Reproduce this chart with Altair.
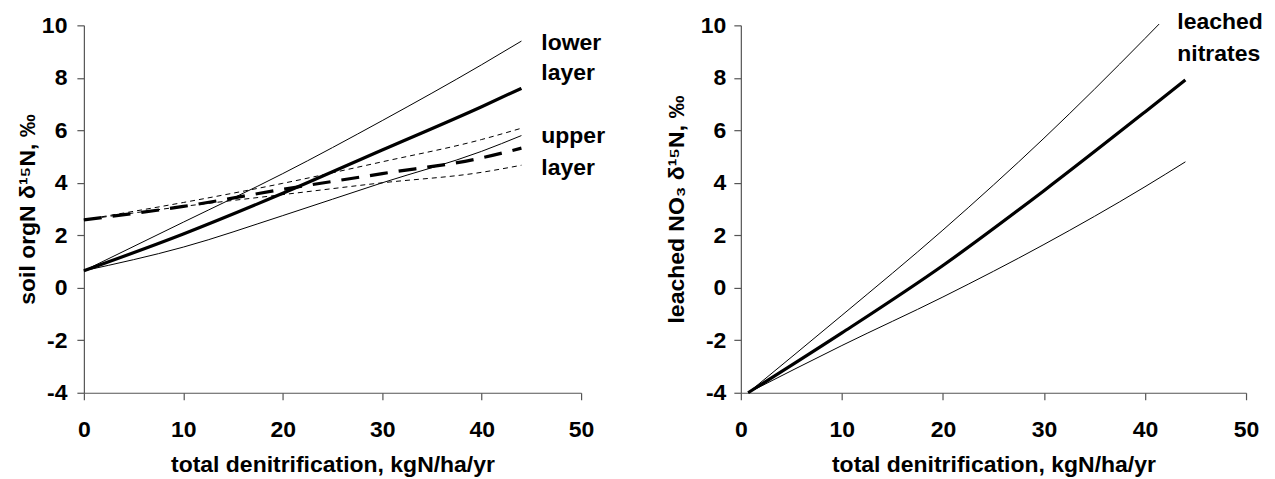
import altair as alt
import pandas as pd

FONT = "Liberation Sans, Arial, sans-serif"

# ---------------- left panel: soil orgN ----------------
left_x = [0, 10, 20, 30, 40, 44]
lower_hi = [0.65, 2.5, 4.35, 6.37, 8.5, 9.4]
lower_mid = [0.65, 2.05, 3.6, 5.25, 6.9, 7.6]
lower_lo = [0.65, 1.55, 2.75, 4.0, 5.2, 5.8]
upper_hi = [2.59, 3.25, 3.98, 4.8, 5.65, 6.08]
upper_mid = [2.59, 3.1, 3.75, 4.35, 4.95, 5.32]
upper_lo = [2.59, 3.1, 3.55, 4.0, 4.4, 4.67]

left_labels = ["lower", "layer", "upper", "layer"]
left_label_x = [46.0, 46.0, 46.0, 46.0]
left_label_y = [9.05, 7.9, 5.5, 4.3]

# ---------------- right panel: leached nitrates ----------------
right_x_hi = [0.72, 10, 20, 30, 40, 41.4]
right_hi = [-4, -1.05, 2.2, 5.7, 9.5, 10.05]
right_x = [0.72, 10, 20, 30, 40, 44]
right_mid = [-4, -1.72, 0.85, 3.7, 6.7, 7.92]
right_lo = [-4, -2.2, -0.35, 1.65, 3.85, 4.8]

right_labels = ["leached", "nitrates"]
right_label_x = [43.2, 43.2]
right_label_y = [9.86, 8.66]

x_ticks = [0, 10, 20, 30, 40, 50]
y_ticks = [-4, -2, 0, 2, 4, 6, 8, 10]

x_title = "total denitrification, kgN/ha/yr"
left_y_title = "soil orgN  δ¹⁵N,  ‰"
right_y_title = "leached NO₃ δ¹⁵N, ‰"

XS = alt.Scale(domain=[0, 50], nice=False)
YS = alt.Scale(domain=[-4, 10], nice=False)


def line(xs, ys, width, dash=None):
    df = pd.DataFrame({"x": xs, "y": ys})
    kw = dict(color="black", strokeWidth=width, clip=False, interpolate="monotone")
    if dash:
        kw["strokeDash"] = dash
    return alt.Chart(df).mark_line(**kw).encode(
        x=alt.X("x:Q", scale=XS),
        y=alt.Y("y:Q", scale=YS),
    )


def labels(texts, xs, ys):
    df = pd.DataFrame({"t": texts, "x": xs, "y": ys})
    return alt.Chart(df).mark_text(
        font=FONT, fontSize=23, fontWeight="bold", color="black",
        align="left", baseline="alphabetic", clip=False
    ).encode(x=alt.X("x:Q", scale=XS), y=alt.Y("y:Q", scale=YS), text="t:N")


def base_axes(ytitle, label_pad, title_pad):
    xa = alt.Axis(values=x_ticks, title=x_title, grid=False, tickSize=7,
                  labelPadding=19, titlePadding=12, labelFlush=False,
                  labelExpr="toString(datum.value)")
    ya = alt.Axis(values=y_ticks, title=ytitle, grid=False, tickSize=7,
                  labelPadding=label_pad, titlePadding=title_pad, labelFlush=False,
                  labelExpr="toString(datum.value)")
    df = pd.DataFrame({"x": [0], "y": [0]})
    return alt.Chart(df).mark_point(opacity=0).encode(
        x=alt.X("x:Q", axis=xa, scale=XS),
        y=alt.Y("y:Q", axis=ya, scale=YS),
    )


left = alt.layer(
    base_axes(left_y_title, 10, 2),
    line(left_x, lower_hi, 1),
    line(left_x, lower_lo, 1),
    line(left_x, lower_mid, 3.2),
    line(left_x, upper_hi, 1, [5, 4]),
    line(left_x, upper_lo, 1, [5, 4]),
    line(left_x, upper_mid, 3.2, [18, 11]),
    labels(left_labels, left_label_x, left_label_y),
).properties(width=498, height=368)

right = alt.layer(
    base_axes(right_y_title, 8, 12),
    line(right_x_hi, right_hi, 1),
    line(right_x, right_lo, 1),
    line(right_x, right_mid, 3.2),
    labels(right_labels, right_label_x, right_label_y),
).properties(width=506, height=368)

chart = alt.hconcat(left, right, spacing=160, bounds="flush").properties(
    padding={"left": 8, "top": 2, "right": 4, "bottom": 0},
).configure_view(stroke=None).configure_axis(
    labelFont=FONT, labelFontSize=23, labelFontWeight="bold", labelColor="black",
    titleFont=FONT, titleFontSize=23, titleFontWeight="bold", titleColor="black",
    domainColor="#555555", tickColor="#555555", domainWidth=1.2, tickWidth=1.2,
)

chart.save("out.html", embed_options={"renderer": "svg", "actions": False})
